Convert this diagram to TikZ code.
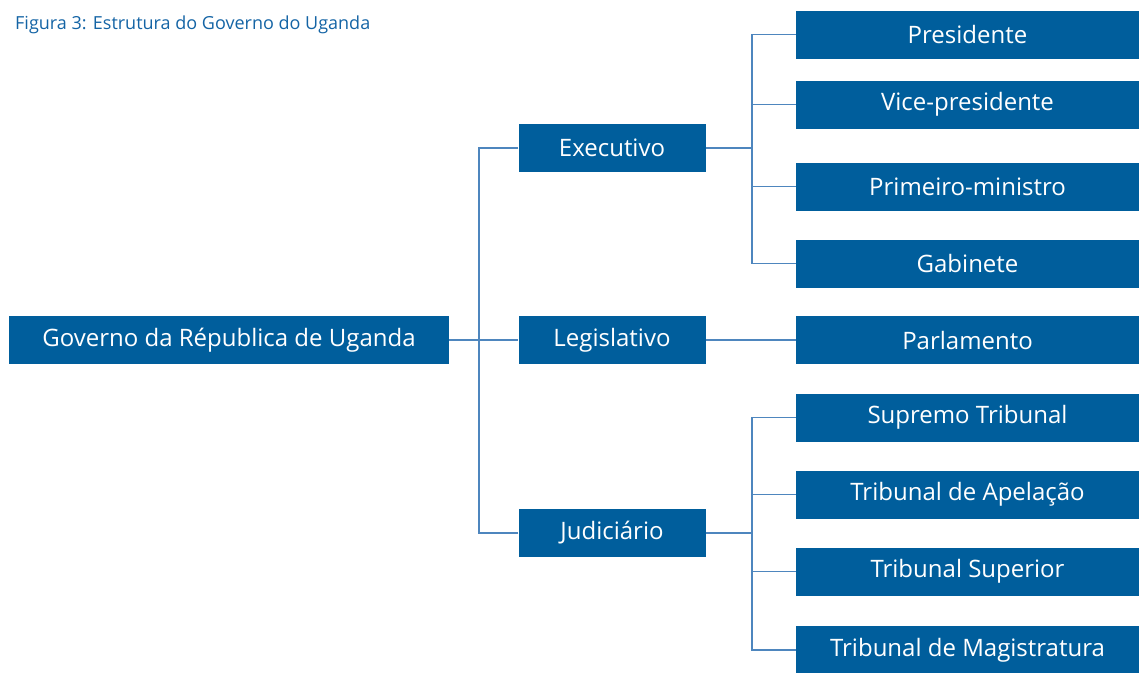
\documentclass[tikz,border=0pt]{standalone}
\usepackage{fontspec}
\setmainfont{Open Sans}
\usepackage{tikz}
\definecolor{boxColor}{RGB}{0,94,156}
\definecolor{lineColor}{RGB}{78,134,190}
\definecolor{titleColor}{RGB}{20,100,165}
\tikzstyle{chart} = [x = 1pt, y = -1pt]
\tikzstyle{unitBox} = [fill=boxColor, text=white, inner sep=0pt, minimum height=48pt, font=\fontsize{24}{27}\selectfont]
\tikzstyle{rootBox} = [unitBox, minimum width=440pt]
\tikzstyle{branchBox} = [unitBox, minimum width=187pt]
\tikzstyle{leafBox} = [unitBox, minimum width=343pt]
\tikzstyle{link} = [color=lineColor, line width=1.3pt]
\newcommand{\leafX}{967.5}
\newcommand{\branchX}{612}
\newcommand{\trunkX}{479}
\newcommand{\twigX}{752}

\begin{document}
\begin{tikzpicture}[chart]
  \useasboundingbox (0,0) rectangle (1139,672);
  \node [anchor=west, text=titleColor, inner sep=0pt, font=\fontsize{18}{21}\selectfont] (title) at (15,25) {Figura 3: Estrutura do Governo do Uganda};

  \node [rootBox] (governo) at (229,340) {Governo da Républica de Uganda};

  \node [branchBox] (executivo) at (\branchX,148) {Executivo};
  \node [branchBox] (legislativo) at (\branchX,340) {Legislativo};
  \node [branchBox] (judiciario) at (\branchX,533) {Judiciário};

  \node [leafBox] (presidente) at (\leafX,34.5) {Presidente};
  \node [leafBox] (vice) at (\leafX,104.5) {Vice-presidente};
  \node [leafBox] (primeiro) at (\leafX,186.5) {Primeiro-ministro};
  \node [leafBox] (gabinete) at (\leafX,263.5) {Gabinete};
  \node [leafBox] (parlamento) at (\leafX,340) {Parlamento};
  \node [leafBox] (supremo) at (\leafX,417.5) {Supremo Tribunal};
  \node [leafBox] (apelacao) at (\leafX,494.5) {Tribunal de Apelação};
  \node [leafBox] (superior) at (\leafX,571.5) {Tribunal Superior};
  \node [leafBox] (magistratura) at (\leafX,650) {Tribunal de Magistratura};

  % root to the three branches
  \draw [link] (governo.east) -- (legislativo.west);
  \foreach \branch in {executivo,judiciario} {
    \draw [link] (\branch.west) -- (\trunkX,0 |- \branch.west) -- (\trunkX,340);
  }

  % branches to leaves
  \draw [link] (executivo.east) -- (\twigX,148);
  \foreach \leaf in {presidente,vice,primeiro,gabinete} {
    \draw [link] (\leaf.west) -- (\twigX,0 |- \leaf.west) -- (\twigX,148);
  }
  \draw [link] (legislativo.east) -- (parlamento.west);
  \draw [link] (judiciario.east) -- (\twigX,533);
  \foreach \leaf in {supremo,apelacao,superior,magistratura} {
    \draw [link] (\leaf.west) -- (\twigX,0 |- \leaf.west) -- (\twigX,533);
  }
\end{tikzpicture}
\end{document}
